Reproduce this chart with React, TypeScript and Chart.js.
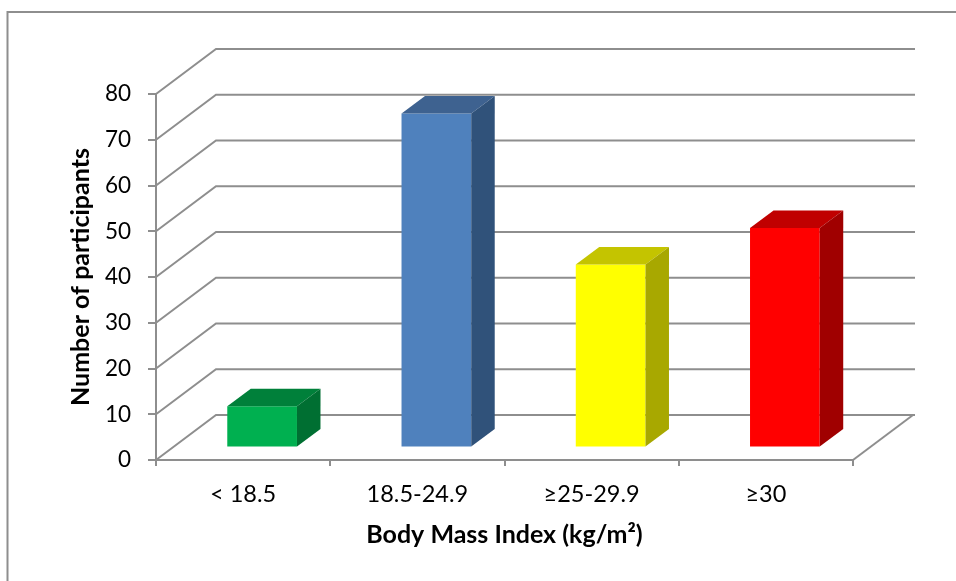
import React, { useEffect, useRef } from "react";
import { Chart, registerables } from "chart.js";

Chart.register(...registerables);

const categories = ["< 18.5", "18.5-24.9", "≥25-29.9", "≥30"];
const participants = [9, 73, 40, 48];
const yTickStep = 10;
const yMax = 80;
const xTitle = "Body Mass Index (kg/m²)";
const yTitle = "Number of participants";

const frontColors = ["#00B050", "#4F81BD", "#FFFF00", "#FF0000"];
const topColors = ["#00803A", "#3E6290", "#C4C400", "#C00000"];
const sideColors = ["#006F32", "#30527A", "#A8A800", "#A00000"];

const GRID = "#8E8E8E";
const FONT = "Lato, Carlito, Calibri, sans-serif";
const WALL_DX = 60;
const WALL_DY = 45;
const BAR_SHIFT_X = 19;
const BAR_SHIFT_Y = 12.5;
const BAR_DX = 23.5;
const BAR_DY = 17.5;

const threeD = {
  id: "threeD",
  beforeDraw(chart: any) {
    const { ctx } = chart;
    ctx.save();
    ctx.strokeStyle = GRID;
    ctx.lineWidth = 2;
    ctx.beginPath();
    ctx.moveTo(7.5, 581);
    ctx.lineTo(7.5, 12);
    ctx.lineTo(956, 12);
    ctx.stroke();
    ctx.restore();
  },
  beforeDatasetsDraw(chart: any) {
    const { ctx, scales, chartArea } = chart;
    ctx.save();
    ctx.strokeStyle = GRID;
    ctx.lineWidth = 2;
    ctx.lineJoin = "miter";
    for (let v = 0; v <= yMax; v += yTickStep) {
      const y = scales.y.getPixelForValue(v);
      ctx.beginPath();
      ctx.moveTo(chartArea.left, y);
      ctx.lineTo(chartArea.left + WALL_DX, y - WALL_DY);
      ctx.lineTo(chartArea.right + WALL_DX + 2, y - WALL_DY);
      ctx.stroke();
    }
    const y0 = scales.y.getPixelForValue(0);
    ctx.beginPath();
    ctx.moveTo(chartArea.right, y0);
    ctx.lineTo(chartArea.right + WALL_DX, y0 - WALL_DY);
    ctx.stroke();
    ctx.restore();
    ctx.save();
    ctx.translate(BAR_SHIFT_X, -BAR_SHIFT_Y);
  },
  afterDatasetsDraw(chart: any) {
    const { ctx } = chart;
    ctx.restore();
    ctx.save();
    ctx.translate(BAR_SHIFT_X, -BAR_SHIFT_Y);
    chart.getDatasetMeta(0).data.forEach((bar: any, i: number) => {
      const l = bar.x - bar.width / 2;
      const r = bar.x + bar.width / 2;
      ctx.fillStyle = topColors[i];
      ctx.beginPath();
      ctx.moveTo(l, bar.y);
      ctx.lineTo(l + BAR_DX, bar.y - BAR_DY);
      ctx.lineTo(r + BAR_DX, bar.y - BAR_DY);
      ctx.lineTo(r, bar.y);
      ctx.closePath();
      ctx.fill();
      ctx.fillStyle = sideColors[i];
      ctx.beginPath();
      ctx.moveTo(r, bar.y);
      ctx.lineTo(r + BAR_DX, bar.y - BAR_DY);
      ctx.lineTo(r + BAR_DX, bar.base - BAR_DY);
      ctx.lineTo(r, bar.base);
      ctx.closePath();
      ctx.fill();
    });
    ctx.restore();
  },
};

export default function App() {
  const ref = useRef<HTMLCanvasElement>(null);
  useEffect(() => {
    const chart = new Chart(ref.current!, {
      type: "bar",
      data: {
        labels: categories,
        datasets: [
          {
            data: participants,
            backgroundColor: frontColors,
            borderWidth: 0,
            barPercentage: 0.4,
            categoryPercentage: 1,
            clip: false,
          } as any,
        ],
      },
      plugins: [threeD],
      options: {
        responsive: false,
        animation: false,
        layout: { padding: { left: 66, right: 103, top: 94, bottom: 31 } },
        plugins: { legend: { display: false }, tooltip: { enabled: false } },
        scales: {
          x: {
            afterFit(s: any) {
              s.height = 90;
            },
            grid: {
              offset: true,
              drawOnChartArea: false,
              color: GRID,
              lineWidth: 2,
              tickLength: 6,
            },
            border: { color: GRID, width: 2 },
            ticks: { color: "#000", font: { family: FONT, size: 23.5 }, padding: 14, maxRotation: 0 },
            title: {
              display: true,
              text: xTitle,
              color: "#000",
              font: { family: FONT, size: 25, weight: "bold" },
              padding: { top: 4, bottom: 0 },
            },
          },
          y: {
            min: 0,
            max: yMax,
            afterFit(s: any) {
              s.width = 90;
            },
            grid: {
              drawOnChartArea: false,
              color: GRID,
              lineWidth: 2,
              tickLength: 8,
            },
            border: { color: GRID, width: 2 },
            ticks: { stepSize: yTickStep, color: "#000", font: { family: FONT, size: 22.5 }, padding: 17 },
            title: {
              display: true,
              text: yTitle,
              color: "#000",
              font: { family: FONT, size: 25, weight: "bold" },
              padding: { top: 0, bottom: 0 },
            },
          },
        },
      },
    });
    return () => chart.destroy();
  }, []);
  return (
    <div style={{ position: "absolute", left: 0, top: 0, background: "#fff" }}>
      <canvas ref={ref} width={956} height={581} style={{ display: "block" }} />
    </div>
  );
}
